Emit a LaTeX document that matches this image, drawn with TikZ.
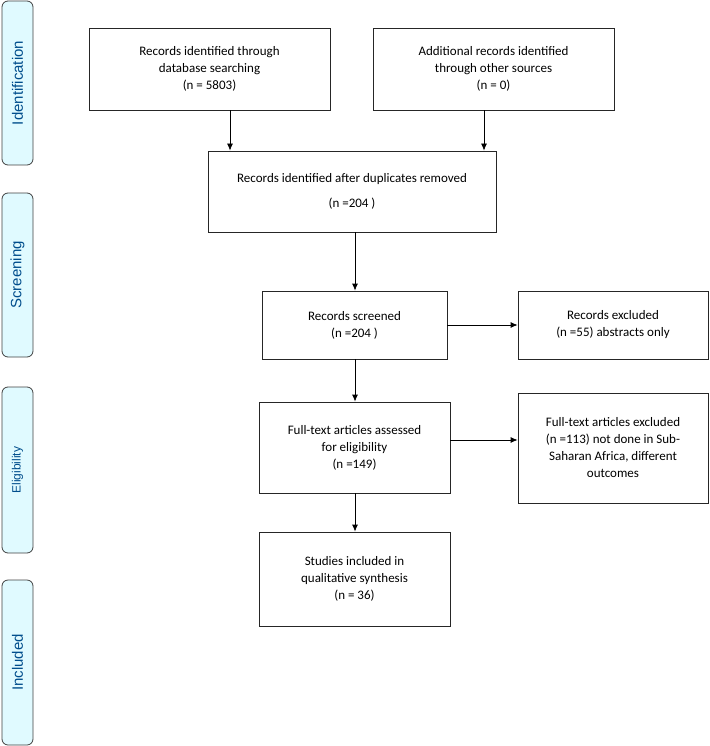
\documentclass[tikz,border=0pt]{standalone}
\usepackage{fontspec}
\setmainfont{Carlito}
\newfontfamily\barfont{Liberation Sans}
\begin{document}
\begin{tikzpicture}[x=1pt,y=-1pt,
 box/.style={draw=black!85,line width=0.8pt,align=center,font=\fontsize{13}{17}\selectfont,inner sep=0},
 bar/.style={draw=black!75,line width=0.8pt,fill=blue!15!cyan!12,rounded corners=6pt},
 bartext/.style={rotate=90,text=blue!45!cyan!55!black,font=\barfont\fontsize{15}{17}\selectfont},
 arr/.style={-{Latex[length=7pt,width=6pt]},line width=0.8pt}]
\usetikzlibrary{arrows.meta}
\useasboundingbox (0,0) rectangle (709,746);
\foreach \n/\a/\b/\t/\s in {i/1/165/Identification/15,s/193/357/Screening/15,e/387/553/Eligibility/12,c/580/745/Included/15}{
 \draw[bar] (2,\a) rectangle (33,\b);
 \node[bartext,font=\barfont\fontsize{\s}{17}\selectfont] (l\n) at (17.5,{(\a+\b)/2}) {\t};
}
\node[box,minimum width=241,minimum height=82] (b1) at (209.5,69) {Records identified through\\database searching\\(n = 5803)};
\node[box,minimum width=241,minimum height=82] (b2) at (493.5,69) {Additional records identified\\through other sources\\(n = 0)};
\node[box,minimum width=288,minimum height=81] (b3) at (352,191.5) {Records identified after duplicates removed\\[8pt](n =204 )};
\node[box,minimum width=185,minimum height=68] (b4) at (354.5,325) {Records screened\\(n =204 )};
\node[box,minimum width=190,minimum height=68] (b5) at (613,325) {Records excluded\\(n =55) abstracts only};
\node[box,minimum width=191,minimum height=91] (b6) at (354.5,447.5) {Full-text articles assessed\\for eligibility\\(n =149)};
\node[box,minimum width=190,minimum height=110] (b7) at (613,448) {Full-text articles excluded\\(n =113) not done in Sub-\\Saharan Africa, different\\outcomes};
\node[box,minimum width=191,minimum height=94] (b8) at (354.5,579) {Studies included in\\qualitative synthesis\\(n = 36)};
\coordinate (a1) at (230,0);
\coordinate (a2) at (484,0);
\coordinate (a3) at (355,0);
\draw[arr] (b1.south -| a1) -- (b3.north -| a1);
\draw[arr] (b2.south -| a2) -- (b3.north -| a2);
\draw[arr] (b3.south -| a3) -- (b4.north -| a3);
\draw[arr] (b4.south -| a3) -- (b6.north -| a3);
\draw[arr] (b6.south -| a3) -- (b8.north -| a3);
\draw[arr] (b4.east) -- (b5.west);
\draw[arr] (b6.east |- 0,440) -- (b7.west |- 0,440);
\end{tikzpicture}
\end{document}
